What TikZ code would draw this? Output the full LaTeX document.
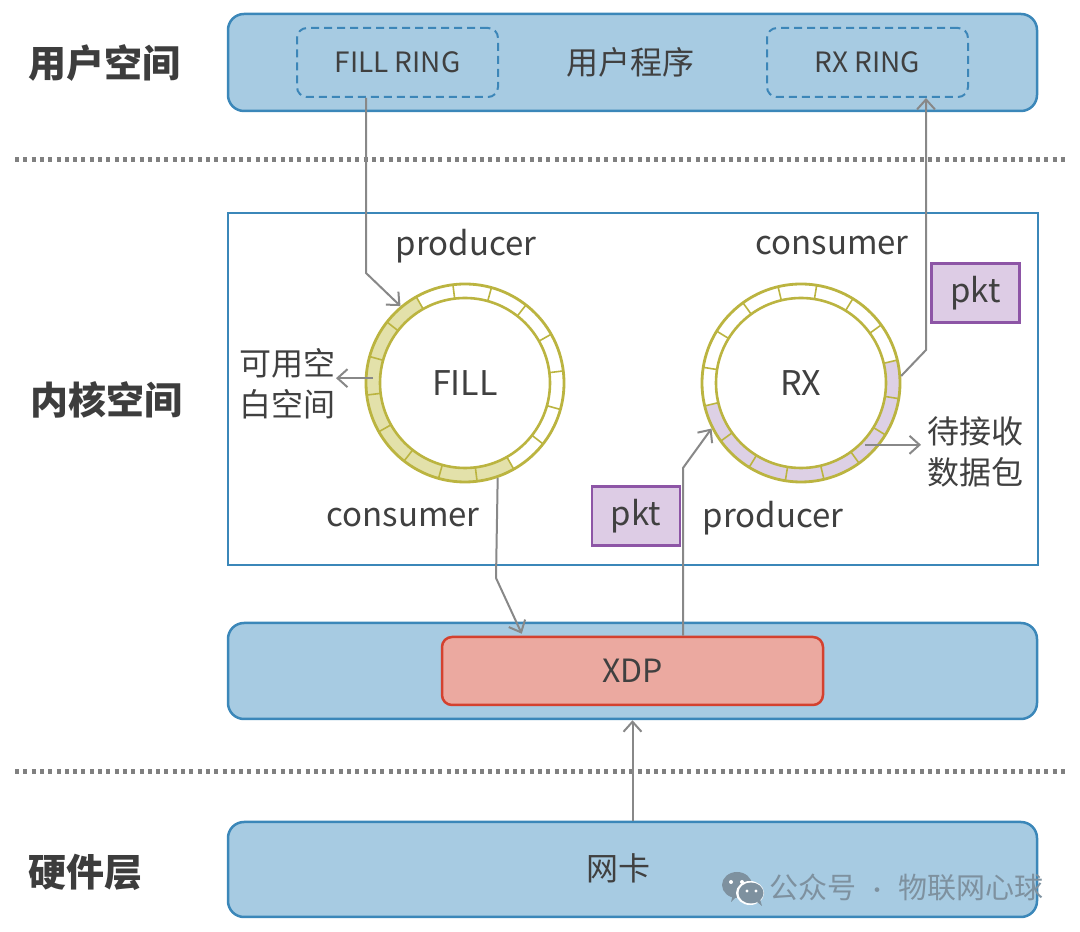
\documentclass[tikz,border=0pt]{standalone}
\usepackage{fontspec}
\setmainfont{Noto Sans CJK SC}
\usetikzlibrary{arrows.meta,calc}
\definecolor{barfill}{HTML}{A7CBE2}
\definecolor{barline}{HTML}{3B87B9}
\definecolor{dashblue}{HTML}{3C86B8}
\definecolor{olive}{HTML}{BBB440}
\definecolor{fillseg}{HTML}{E3E1AA}
\definecolor{rxseg}{HTML}{DDD0E5}
\definecolor{pktline}{HTML}{8D55A6}
\definecolor{pktfill}{HTML}{DDCCE5}
\definecolor{xdpfill}{HTML}{EBA9A0}
\definecolor{xdpline}{HTML}{D4412F}
\definecolor{arrgray}{HTML}{888888}
\definecolor{txt}{HTML}{404040}
\definecolor{dotgray}{HTML}{808080}
\definecolor{wmark}{HTML}{7E919F}
\newcommand{\myring}[4]{%
  \fill[#4] ($(#1,#2)+(#3:99)$) arc[start angle=#3, delta angle=180, radius=99pt]
    -- ($(#1,#2)+({#3+180}:85)$) arc[start angle={#3+180}, delta angle=-180, radius=85pt] -- cycle;
  \foreach \k in {0,...,15}{
    \draw[olive, line width=1.6pt] ($(#1,#2)+({#3+22.5*\k}:85)$) -- ($(#1,#2)+({#3+22.5*\k}:99)$);
  }
  \draw[olive, line width=2.6pt] (#1,#2) circle[radius=85pt];
}
\begin{document}
\begin{tikzpicture}[x=1pt,y=1pt,
  bar/.style={draw=barline, fill=barfill, line width=2.5pt, rounded corners=16pt, minimum width=809pt, inner sep=0pt},
  dashbox/.style={draw=dashblue, dash pattern=on 8pt off 5pt, line width=2pt, rounded corners=10pt, minimum width=201pt, minimum height=69pt, inner sep=0pt, text=txt, font=\fontsize{28}{32}\selectfont},
  pktbox/.style={draw=pktline, fill=pktfill, line width=2.5pt, minimum width=88pt, minimum height=59pt, inner sep=0pt, text=txt, font=\fontsize{33}{36}\selectfont},
  ringnode/.style={circle, draw=olive, line width=2.8pt, minimum size=198pt, inner sep=0pt, text=txt, font=\fontsize{34}{38}\selectfont},
  arr/.style={draw=arrgray, line width=2pt, -{Straight Barb[length=10pt,width=18pt]}},
  lbl/.style={text=txt, font=\fontsize{33}{41}\selectfont, inner sep=0pt, align=center},
  side/.style={text=txt!95!black, font=\fontsize{38}{44}\selectfont\bfseries, inner sep=0pt, anchor=west},
  dotline/.style={draw=dotgray, line width=5pt, dash pattern=on 4pt off 4.3pt}
]
\useasboundingbox (0,0) rectangle (1080,932);

% side labels
\node[side] (s1) at (28,869) {用户空间};
\node[side] (s2) at (30,532) {内核空间};
\node[side] (s3) at (28,60) {硬件层};

% separators
\draw[dotline] (15,772) -- (1068,772);
\draw[dotline] (15,160) -- (1068,160);

% user space bar
\node[bar, minimum height=97pt] (user) at (632.5,869.5) {};
\node[dashbox] (fillring) at (397.5,869.5) {FILL RING};
\node[dashbox] (rxring) at (867.5,869.5) {RX RING};
\node[lbl, font=\fontsize{32}{36}\selectfont] (uprog) at (630,870) {用户程序};

% kernel box
\node[draw=barline, line width=2.5pt, fill=white, minimum width=810pt, minimum height=352pt, inner sep=0pt] (kernel) at (633,543) {};

% rings
\myring{465}{549}{119.5}{fillseg}
\node[ringnode] (fillc) at (465,549) {FILL};
\myring{801}{549}{193.4}{rxseg}
\node[ringnode] (rxc) at (801,549) {RX};

\node[lbl] (prod1) at (466,686) {producer};
\node[lbl] (cons1) at (832,686) {consumer};
\node[lbl] (cons2) at (403,414) {consumer};
\node[lbl] (prod2) at (773,414) {producer};
\node[lbl, anchor=east, font=\fontsize{32}{41}\selectfont] (kyl) at (336,548.5) {可用空\\白空间};
\node[lbl, anchor=west, font=\fontsize{32}{41}\selectfont] (dsl) at (927,480) {待接收\\数据包};

\node[pktbox] (pkt1) at (975.5,639) {pkt};
\node[pktbox] (pkt2) at (636,416) {pkt};

% xdp bar
\node[bar, minimum height=96pt] (xdpbar) at (632.5,261) {};
\node[draw=xdpline, fill=xdpfill, line width=2.5pt, rounded corners=10pt, minimum width=381pt, minimum height=68pt, inner sep=0pt, text=txt, font=\fontsize{32}{36}\selectfont] (xdp) at (632.5,261) {XDP};

% hardware bar
\node[bar, minimum height=95pt] (hw) at (632.5,62.5) {};
\node[lbl, font=\fontsize{32}{36}\selectfont] (nic) at (618,64) {网卡};

% watermark
\fill[wmark] (737,47) ellipse[x radius=15pt, y radius=13pt];
\fill[wmark] (737,36) -- (731,30) -- (733,38) -- cycle;
\fill[white] (750,39) ellipse[x radius=14pt, y radius=12pt];
\fill[wmark] (751,39) ellipse[x radius=12.5pt, y radius=10.5pt];
\fill[wmark] (757,30) -- (762,26) -- (760,33) -- cycle;
\fill[white] (731,50) circle[radius=2pt] (742,50) circle[radius=2pt];
\fill[white] (747,41) circle[radius=1.7pt] (756,41) circle[radius=1.7pt];
\node[text=wmark, font=\fontsize{29}{32}\selectfont, inner sep=0pt, anchor=west] (wm) at (769,44) {公众号\hspace{10pt}{\fontsize{22}{22}\selectfont ·}\hspace{10pt}物联网心球};

% connectors
\coordinate (b1) at (366,659);
\draw[arr] (fillring.south -| b1) -- (b1) -- (fillc.130);
\coordinate (fl) at ($(fillc.center)+(177:92)$);
\draw[arr] (fl) -- (fl -| kyl.east);
\coordinate (b3) at (496,354);
\draw[arr] (fillc.-71.5) -- (b3) -- ($(xdp.north west)+(81,2)$);
\coordinate (b4) at (683,464);
\draw[arr] (xdp.north -| b4) -- (b4) -- (rxc.207);
\coordinate (b5) at (926,582);
\draw[arr] (rxc.4) -- (b5) -- (b5 |- rxring.south);
\coordinate (s6) at ($(rxc.center)+(-44:89)$);
\draw[arr] (s6) -- ($(s6 -| dsl.west)+(-6,0)$);
\draw[arr] (hw.north -| xdp.south) -- (xdpbar.south -| xdp.south);
\end{tikzpicture}
\end{document}
